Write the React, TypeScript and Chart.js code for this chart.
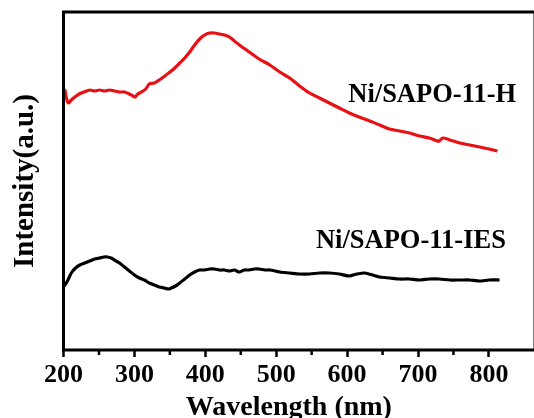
import { useEffect, useRef } from "react";
import { Chart, registerables } from "chart.js";

Chart.register(...registerables);

// UV-vis spectra: wavelength (nm) and intensity (a.u.) for each sample
const wavelengthH = [
  200, 202, 204, 207, 211, 216, 222, 229, 237, 244, 251, 258, 265, 272, 279, 286, 293, 298, 301,
  305, 310, 316, 321, 328, 335, 343, 350, 357, 364, 371, 378, 385, 392, 399, 406, 413, 420, 427,
  434, 441, 448, 462, 476, 491, 505, 519, 533, 547, 561, 575, 589, 603, 617, 632, 646, 660, 674,
  688, 702, 716, 727, 730, 735, 745, 759, 773, 787, 800, 812,
];
const intensityH = [
  2.55, 2.6, 2.52, 2.47, 2.5, 2.53, 2.56, 2.58, 2.6, 2.59, 2.6, 2.59, 2.6, 2.59, 2.58, 2.58, 2.56,
  2.54, 2.53, 2.56, 2.58, 2.61, 2.66, 2.67, 2.7, 2.74, 2.78, 2.82, 2.87, 2.92, 2.98, 3.05, 3.11,
  3.15, 3.17, 3.17, 3.16, 3.15, 3.13, 3.09, 3.05, 2.98, 2.91, 2.85, 2.78, 2.72, 2.64, 2.57, 2.52,
  2.47, 2.42, 2.37, 2.33, 2.29, 2.25, 2.21, 2.19, 2.17, 2.14, 2.12, 2.09, 2.09, 2.12, 2.1, 2.07,
  2.05, 2.03, 2.01, 1.99,
];

const wavelengthIES = [
  200, 203, 207, 211, 217, 223, 230, 237, 244, 251, 257, 262, 267, 272, 279, 286, 293, 300, 307,
  314, 321, 328, 335, 342, 348, 352, 358, 364, 371, 378, 385, 392, 399, 406, 413, 420, 427, 434,
  441, 448, 455, 462, 469, 476, 484, 491, 505, 519, 533, 547, 561, 575, 589, 603, 614, 625, 636,
  646, 660, 674, 688, 702, 716, 730, 745, 759, 773, 787, 800, 815,
];
const intensityIES = [
  0.63, 0.66, 0.71, 0.77, 0.82, 0.85, 0.87, 0.89, 0.91, 0.92, 0.93, 0.93, 0.92, 0.9, 0.87, 0.83,
  0.79, 0.75, 0.72, 0.7, 0.67, 0.65, 0.63, 0.62, 0.61, 0.62, 0.64, 0.67, 0.71, 0.75, 0.78, 0.8,
  0.8, 0.81, 0.81, 0.8, 0.8, 0.79, 0.8, 0.78, 0.8, 0.8, 0.81, 0.81, 0.8, 0.8, 0.78, 0.77, 0.76,
  0.76, 0.77, 0.77, 0.76, 0.74, 0.76, 0.77, 0.75, 0.73, 0.72, 0.71, 0.71, 0.7, 0.71, 0.71, 0.7,
  0.7, 0.7, 0.69, 0.7, 0.7,
];

const seriesNames = ["Ni/SAPO-11-H", "Ni/SAPO-11-IES"];
const xTickLabels = ["200", "300", "400", "500", "600", "700", "800"];
const xMinorTicks = [250, 350, 450, 550, 650, 750];
const xTitle = "Wavelength (nm)";
const yTitle = "Intensity(a.u.)";

const SERIF = '"Liberation Serif", "Times New Roman", serif';

// Sample names written next to their curves, anchored in data units
const curveLabels = [
  { text: seriesNames[0], x: 720, y: 2.55 },
  { text: seriesNames[1], x: 690, y: 1.09 },
];

const framePlugin = {
  id: "frame",
  afterDraw(chart: any) {
    const { ctx, chartArea, scales } = chart;
    const { left, top, right, bottom } = chartArea;
    ctx.save();
    ctx.strokeStyle = "#000";
    ctx.lineWidth = 3;
    ctx.strokeRect(left, top, right - left, bottom - top);

    // short minor ticks between the labelled ones
    ctx.lineWidth = 2.5;
    ctx.beginPath();
    for (const v of xMinorTicks) {
      const px = scales.x.getPixelForValue(v);
      ctx.moveTo(px, bottom);
      ctx.lineTo(px, bottom + 5);
    }
    ctx.stroke();

    // axis title, drawn by hand so it can sit a little left of the frame centre
    ctx.fillStyle = "#000";
    ctx.font = `bold 28px ${SERIF}`;
    ctx.textAlign = "center";
    ctx.textBaseline = "alphabetic";
    ctx.fillText(xTitle, left + (right - left) * 0.478, 415);
    ctx.restore();
  },
};

const curveLabelPlugin = {
  id: "curveLabels",
  afterDatasetsDraw(chart: any) {
    const { ctx, scales } = chart;
    ctx.save();
    ctx.fillStyle = "#000";
    ctx.font = `bold 26.5px ${SERIF}`;
    ctx.textAlign = "center";
    ctx.textBaseline = "middle";
    for (const l of curveLabels) {
      ctx.fillText(l.text, scales.x.getPixelForValue(l.x), scales.y.getPixelForValue(l.y));
    }
    ctx.restore();
  },
};

export default function App() {
  const canvasRef = useRef<HTMLCanvasElement | null>(null);

  useEffect(() => {
    if (!canvasRef.current) return;
    const chart = new Chart(canvasRef.current, {
      type: "line",
      data: {
        datasets: [
          {
            label: seriesNames[0],
            data: wavelengthH.map((x, i) => ({ x, y: intensityH[i] })),
            borderColor: "rgb(232, 16, 20)",
            borderWidth: 3.2,
            pointRadius: 0,
            tension: 0.25,
          },
          {
            label: seriesNames[1],
            data: wavelengthIES.map((x, i) => ({ x, y: intensityIES[i] })),
            borderColor: "#000",
            borderWidth: 3.2,
            pointRadius: 0,
            tension: 0.25,
          },
        ],
      },
      options: {
        animation: false,
        responsive: true,
        maintainAspectRatio: false,
        layout: { padding: { top: 12, right: 5, left: 0, bottom: 0 } },
        plugins: { legend: { display: false }, tooltip: { enabled: false } },
        scales: {
          x: {
            type: "linear",
            min: 200,
            max: 865,
            border: { display: false },
            grid: {
              display: true,
              drawOnChartArea: false,
              drawTicks: true,
              tickLength: 7,
              tickWidth: 2.5,
              tickColor: (c: any) =>
                c.tick && xTickLabels.includes(String(c.tick.value)) ? "#000" : "rgba(0,0,0,0)",
            },
            ticks: {
              stepSize: 50,
              autoSkip: false,
              maxRotation: 0,
              padding: 3,
              color: "#000",
              font: { family: SERIF, weight: "bold", size: 26 },
              callback: (v: any) => (xTickLabels.includes(String(v)) ? String(v) : ""),
            },
            title: { display: false },
            afterFit: (s: any) => {
              s.height = 68;
            },
          },
          y: {
            min: 0,
            max: 3.38,
            border: { display: false },
            grid: { display: false },
            ticks: { display: false },
            title: {
              display: true,
              text: yTitle,
              color: "#000",
              font: { family: SERIF, weight: "bold", size: 29, lineHeight: 1.2 },
              padding: { top: 8, bottom: 0 },
            },
            afterFit: (s: any) => {
              s.width = 63.5;
            },
          },
        },
      },
      plugins: [framePlugin, curveLabelPlugin],
    });
    return () => chart.destroy();
  }, []);

  return (
    <div
      style={{
        position: "fixed",
        left: 0,
        top: 0,
        width: 540,
        height: 418,
        background: "#fff",
      }}
    >
      <canvas ref={canvasRef} />
    </div>
  );
}
